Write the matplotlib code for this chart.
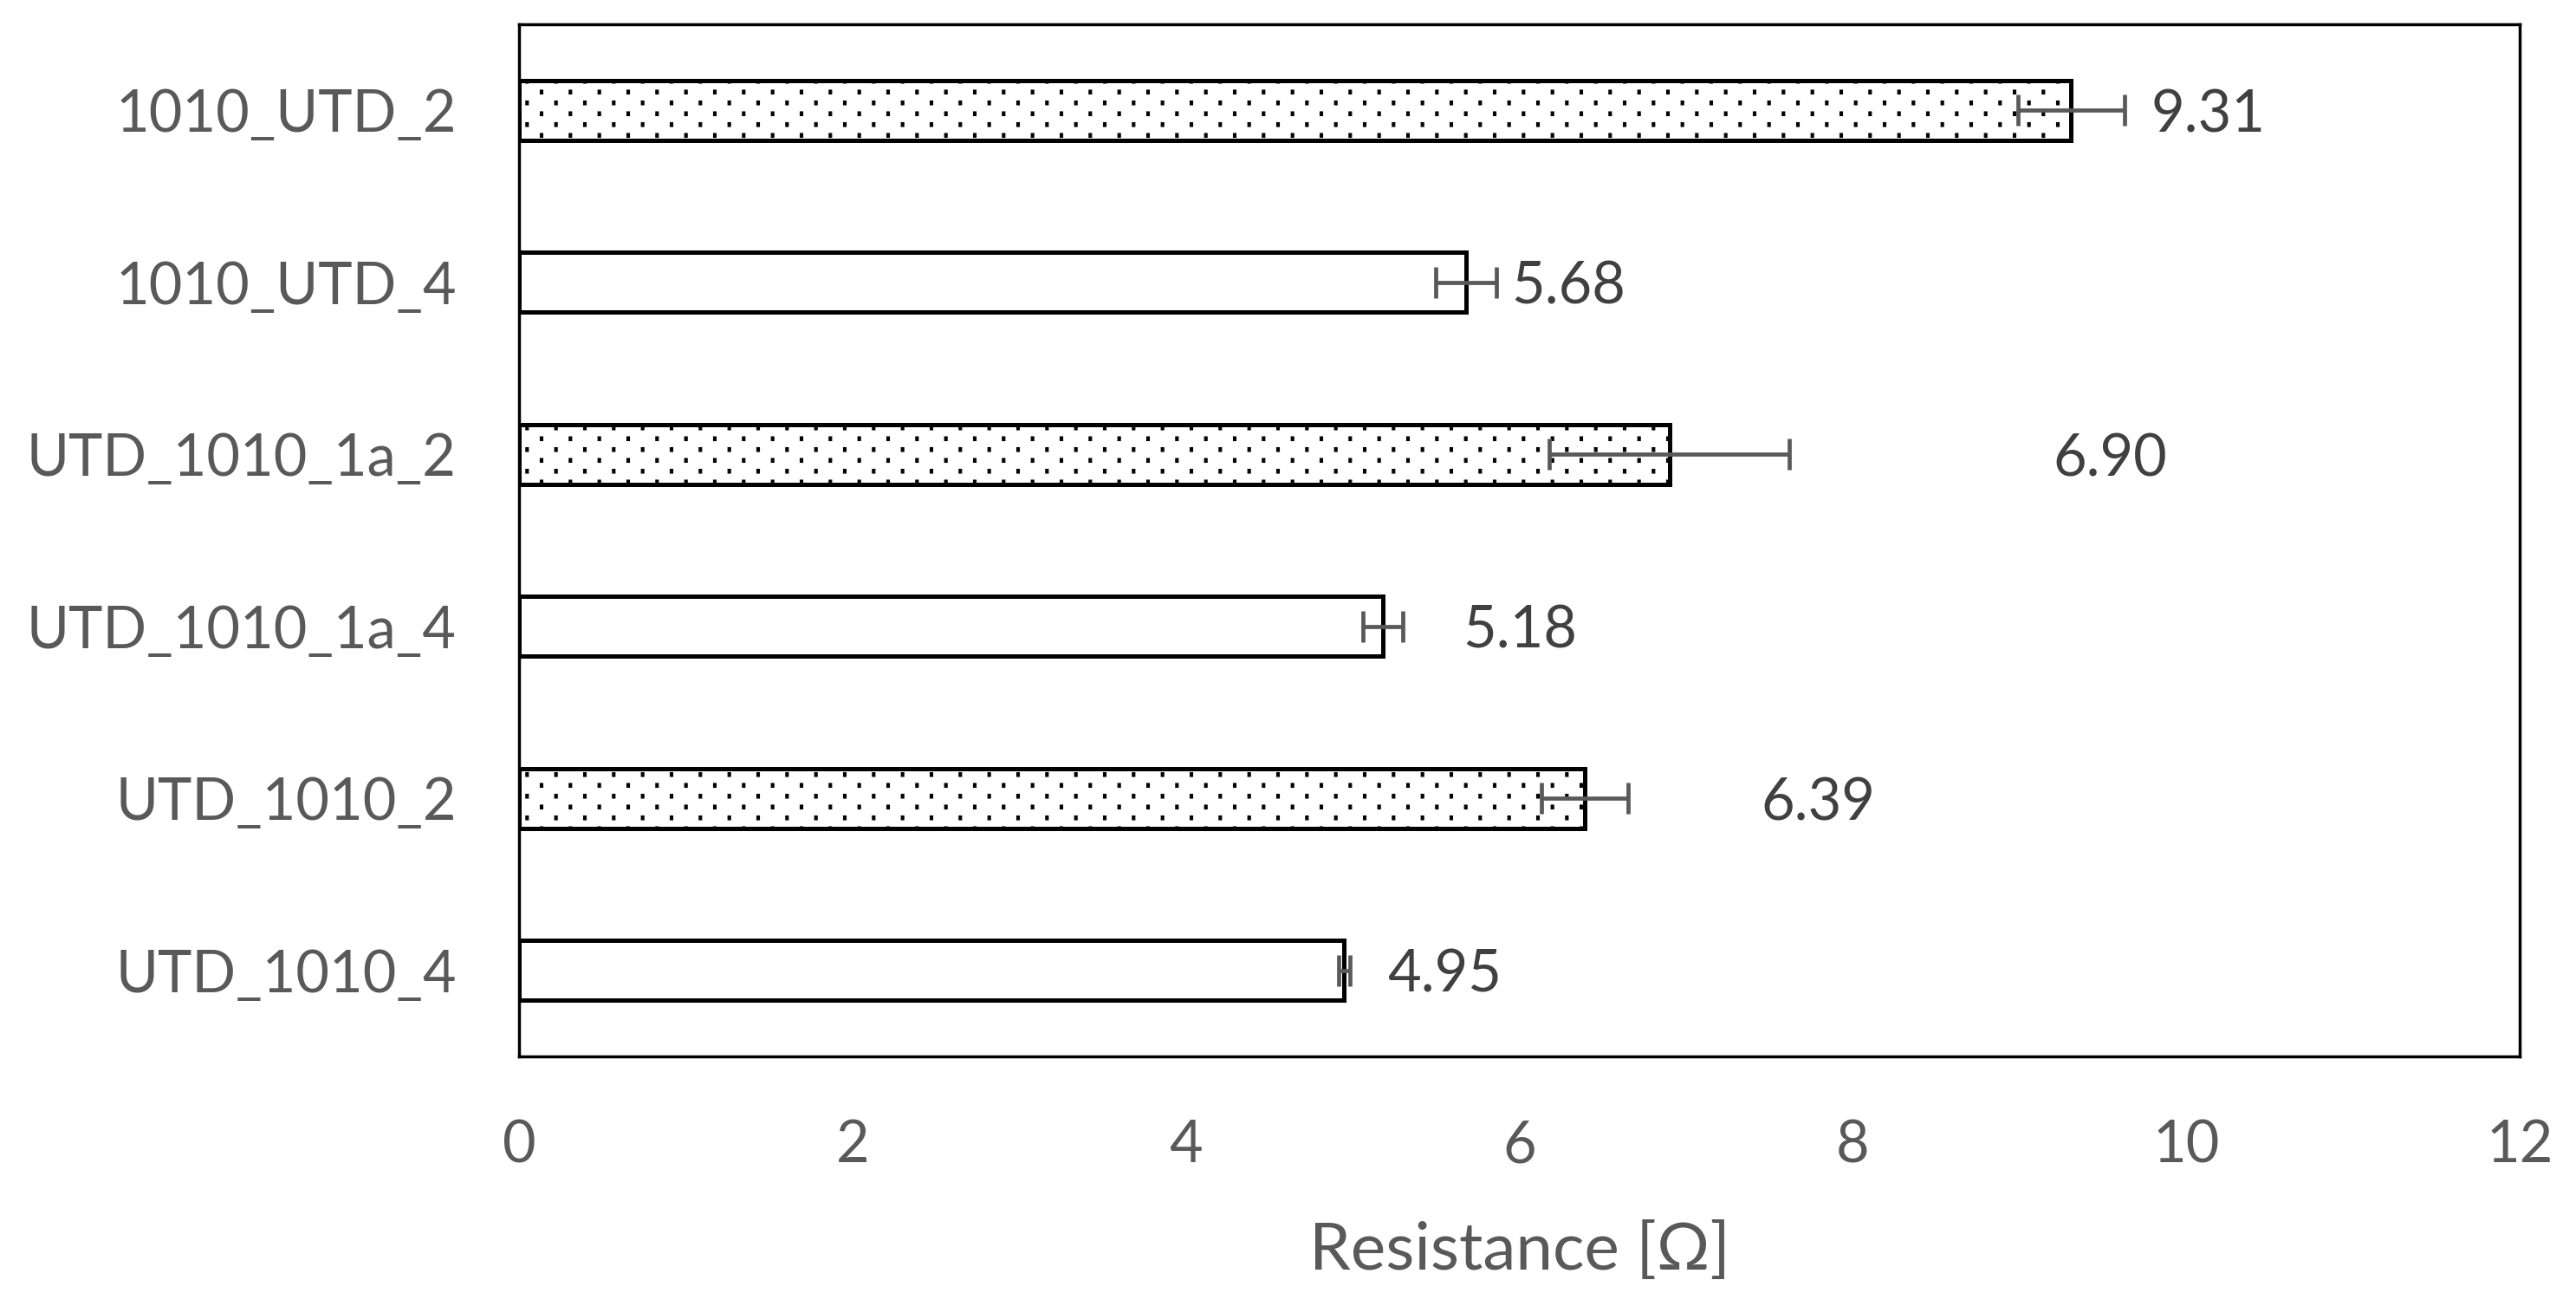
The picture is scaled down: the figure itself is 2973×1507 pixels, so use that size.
import numpy as np
import matplotlib
matplotlib.use("Agg")
import matplotlib.pyplot as plt
from matplotlib import hatch as mhatch
from matplotlib.path import Path

# data, bottom to top
names = ["UTD_1010_4", "UTD_1010_2", "UTD_1010_1a_4", "UTD_1010_1a_2", "1010_UTD_4", "1010_UTD_2"]
resistance = [4.95, 6.39, 5.18, 6.90, 5.68, 9.31]
err = [0.035, 0.26, 0.12, 0.72, 0.18, 0.32]
dotted = [False, True, False, True, False, True]
value_labels = ["4.95", "6.39", "5.18", "6.90", "5.68", "9.31"]
label_x = [5.21, 7.45, 5.66, 9.20, 5.95, 9.79]


# sparse staggered dot texture (wider apart horizontally than vertically),
# replaces the stock '.' hatch
class SparseDots(mhatch.HatchPatternBase):
    cols = 3
    rows = 8
    w = 0.03
    h = 0.045

    def __init__(self, hatch, density):
        self.n = hatch.count('.')
        self.num_vertices = 5 * self.cols * self.rows if self.n else 0

    def set_vertices_and_codes(self, vertices, codes):
        k = 0
        for r in range(self.rows):
            yc = (r + 0.5) / self.rows
            for c in range(self.cols):
                xc = (c + 0.25 + 0.5 * (r % 2)) / self.cols
                vertices[k:k + 5] = [[xc - self.w / 2, yc - self.h / 2],
                                     [xc + self.w / 2, yc - self.h / 2],
                                     [xc + self.w / 2, yc + self.h / 2],
                                     [xc - self.w / 2, yc + self.h / 2],
                                     [xc - self.w / 2, yc - self.h / 2]]
                codes[k:k + 5] = [Path.MOVETO, Path.LINETO, Path.LINETO,
                                  Path.LINETO, Path.CLOSEPOLY]
                k += 5


mhatch._hatch_types = [SparseDots if t is mhatch.SmallFilledCircles else t
                       for t in mhatch._hatch_types]

grey = "#595959"
plt.rcParams['font.family'] = ['Lato', 'DejaVu Sans']
plt.rcParams['hatch.linewidth'] = 0.8

fig = plt.figure(figsize=(29.73, 15.07), dpi=100)
ax = fig.add_axes([599/2973, 1-1219/1507, (2908-599)/2973, (1219-28)/1507])

y = np.arange(len(names))
for i in range(len(names)):
    ax.barh(y[i], resistance[i], height=0.35, color="white", edgecolor="black",
            linewidth=3.6, hatch="." if dotted[i] else None, zorder=2)
ax.errorbar(resistance, y, xerr=err, fmt="none", ecolor=grey, elinewidth=3.4,
            capsize=13, capthick=3.4, zorder=3)
for i in range(len(names)):
    ax.text(label_x[i], y[i], value_labels[i], va="center_baseline", ha="left",
            fontsize=48, color="#404040")

ax.set_xlim(0, 12)
ax.set_ylim(-0.5, 5.5)
ax.set_xticks(np.arange(0, 13, 2))
ax.set_yticks(y)
ax.set_yticklabels(names)
ax.tick_params(axis="both", length=0, labelsize=48, labelcolor=grey)
ax.tick_params(axis="y", pad=52)
ax.tick_params(axis="x", pad=52)
for s in ax.spines.values():
    s.set_linewidth(2.5)
    s.set_color("black")
ax.set_xlabel("Resistance [Ω]", fontsize=55, color=grey, labelpad=40)

fig.savefig("out.png", dpi=100)
